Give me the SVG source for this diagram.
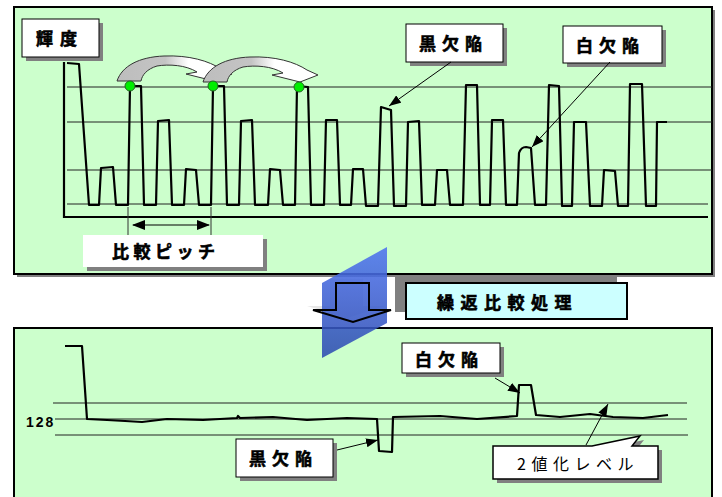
<svg xmlns="http://www.w3.org/2000/svg" width="722" height="497" viewBox="0 0 722 497">
<style>
.panel{fill:#CCFFCC;stroke:#000;stroke-width:2}
.shadow{fill:#808080}
.box{fill:#fff;stroke:#000;stroke-width:1}
.grid{stroke:#222;stroke-width:1;fill:none}
.wave{stroke:#000;stroke-width:2.2;fill:none;stroke-linejoin:round}
.lbl{font-family:"Noto Sans CJK JP","Liberation Sans",sans-serif;font-weight:700;font-size:17px;fill:#000;stroke:#000;stroke-width:0.6}
.lead{stroke:#000;stroke-width:1;fill:none;marker-end:url(#ah)}
.carrow{stroke:#333;stroke-width:1}
.dot{fill:#00EE00;stroke:#226622;stroke-width:1}
</style>
<defs>
<marker id="ah" markerUnits="userSpaceOnUse" markerWidth="13" markerHeight="9" refX="12" refY="4.5" orient="auto">
<path d="M0,0 L12,4.5 L0,9 Z" fill="#000"/>
</marker>
<linearGradient id="cg" x1="0" y1="0" x2="1" y2="0">
<stop offset="0" stop-color="#BDBDBD"/>
<stop offset="0.42" stop-color="#C4C4C4"/>
<stop offset="0.62" stop-color="#FFFFFF"/>
<stop offset="1" stop-color="#FFFFFF"/>
</linearGradient>
<linearGradient id="bg" x1="0" y1="0" x2="0" y2="1">
<stop offset="0" stop-color="#4F74F0"/>
<stop offset="1" stop-color="#2E4DB0"/>
</linearGradient>
</defs>

<!-- lower panel -->
<g id="panel-bottom">
<rect class="panel" x="14" y="328" width="698" height="180"/>
</g>

<!-- top panel -->
<g id="panel-top">
<rect class="shadow" x="17" y="10" width="698" height="267"/>
<rect class="panel" x="14" y="7" width="698" height="267"/>
</g>

<!-- top chart -->
<g id="chart-top">
<line class="grid" x1="67" y1="87" x2="712" y2="87"/>
<line class="grid" x1="67" y1="122" x2="712" y2="122"/>
<line class="grid" x1="67" y1="170" x2="712" y2="170"/>
<line class="grid" x1="67" y1="204" x2="708" y2="204"/>
<polyline points="64,62 64,217 708,217" fill="none" stroke="#000" stroke-width="2.2"/>
<path class="wave" d="M67,63 L79,64 L89,205 L99,205 L101,168 L113,167 L116,205 L128,205 L130,86 L141,86 L144,205 L156,205 L158,121 L169,120 L172,205 L184,205 L186,169 L196,170 L199,205 L211,205 L213,86 L224,86 L227,205 L239,205 L241,121 L252,120 L255,205 L268,205 L270,169 L280,170 L283,205 L295,205 L297,86 L308,87 L311,205 L324,205 L326,120 L337,120 L340,205 L351,205 L353,169 L363,169 L366,206 L378,206 L381,107 L391,110 L394,206 L406,206 L408,122 L419,121 L422,205 L435,205 L437,170 L447,170 L450,205 L463,205 L466,85 L477,85 L480,205 L490,205 L492,120 L503,120 L506,205 L517,205 L519,153 Q521,147 526,147 L531,148 L535,205 L546,205 L549,85 L559,86 L562,206 L572,206 L574,122 L586,122 L590,206 L602,206 L604,170 L615,171 L618,206 L628,206 L630,84 L642,84 L646,206 L656,206 L657,122 L667,122"/>
</g>

<!-- curved comparison arrows -->
<g id="compare-arrows">
<path class="carrow" fill="url(#cg)" d="M117,81 C122,66 139,57 164,56 C189,55 209,61 221,69 L232,74 L214,81 L186,74 L197,72 C186,65 169,64 157,66 C147,69 142,75 141,81 Z"/>
<path class="carrow" fill="url(#cg)" d="M203,82 C208,67 225,58 250,57 C275,56 295,62 307,70 L318,75 L300,82 L272,75 L283,73 C272,66 255,65 243,67 C233,70 228,76 227,82 Z"/>
<circle class="dot" cx="130" cy="86" r="5"/>
<circle class="dot" cx="213" cy="86" r="5"/>
<circle class="dot" cx="299" cy="87" r="5"/>
</g>

<!-- pitch marker -->
<g id="pitch">
<line x1="128" y1="207" x2="128" y2="236" stroke="#333" stroke-width="1"/>
<line x1="211" y1="207" x2="211" y2="236" stroke="#333" stroke-width="1"/>
<path d="M133,225 L209,225" stroke="#000" stroke-width="1.2"/>
<path d="M132,225 L145,220 L145,230 Z" fill="#000"/>
<path d="M210,225 L197,220 L197,230 Z" fill="#000"/>
</g>

<g id="label-kido">
<rect class="shadow" x="26" y="23" width="77" height="38"/>
<rect class="box" x="22" y="19" width="77" height="38"/>
<text class="lbl" x="36" y="45" letter-spacing="7">輝度</text>
</g>

<g id="label-pitch">
<rect class="shadow" x="87" y="239" width="180" height="32"/>
<rect x="83" y="235" width="180" height="32" fill="#fff"/>
<text class="lbl" x="112" y="258" font-size="16" letter-spacing="4.5">比較ピッチ</text>
</g>

<g id="label-black-top">
<rect class="shadow" x="410" y="28" width="97" height="38"/>
<rect class="box" x="406" y="24" width="97" height="38"/>
<text class="lbl" x="419" y="50" letter-spacing="6">黒欠陥</text>
</g>

<g id="label-white-top">
<rect class="shadow" x="567" y="30" width="99" height="37"/>
<rect class="box" x="563" y="26" width="99" height="37"/>
<text class="lbl" x="576" y="52" letter-spacing="6">白欠陥</text>
</g>

<!-- lower chart -->
<g id="chart-bottom">
<line class="grid" x1="53" y1="403" x2="687" y2="403"/>
<line class="grid" x1="55" y1="419" x2="687" y2="419"/>
<line class="grid" x1="55" y1="435" x2="688" y2="435"/>
<text x="26" y="427" font-family="Liberation Sans, Arial, sans-serif" font-weight="700" font-size="14" letter-spacing="2">128</text>
<path class="wave" d="M65,346 L82,346 L87,419 L107,420 L125,421 L142,422 L167,419 L203,420 L237,418 L238,416 L240,418 L273,417 L307,420 L347,418 L377,419 L379,451 L392,452 L393,417 L440,416 L477,419 L517,416 L519,385 L531,385 L536,415 L560,417 L590,414 L613,417 L643,418 L668,415"/>
</g>

<g id="label-black-bottom">
<rect class="shadow" x="240" y="443" width="97" height="38"/>
<rect class="box" x="236" y="439" width="97" height="38"/>
<text class="lbl" x="249" y="465" letter-spacing="6">黒欠陥</text>
</g>

<g id="label-white-bottom">
<rect class="shadow" x="406" y="347" width="98" height="30"/>
<rect class="box" x="402" y="343" width="98" height="30"/>
<text class="lbl" x="415" y="366" letter-spacing="6">白欠陥</text>
</g>

<g id="label-level">
<path class="shadow" d="M497,450 L596,450 L644,440 L636,450 L662,450 L662,483 L497,483 Z"/>
<path d="M493,446 L592,446 L640,436 L632,446 L658,446 L658,479 L493,479 Z" fill="#fff" stroke="#000" stroke-width="1.5"/>
<text x="517" y="470" font-family="Noto Sans CJK JP, Liberation Sans, sans-serif" font-size="16" letter-spacing="5.5" fill="#000">2値化レベル</text>
</g>

<!-- connectors -->
<g id="connectors">
<line class="lead" x1="451" y1="62" x2="389" y2="106"/>
<line class="lead" x1="610" y1="62" x2="532" y2="147"/>
<line class="lead" x1="337" y1="450" x2="378" y2="440"/>
<line class="lead" x1="495" y1="378" x2="520" y2="393"/>
<line class="lead" x1="586" y1="445" x2="608" y2="404"/>
</g>

<g id="label-process">
<rect class="shadow" x="395" y="275" width="222" height="37"/>
<rect x="406" y="283" width="221" height="36" fill="#CCFFFF" stroke="#000" stroke-width="2"/>
<text class="lbl" x="437" y="309" font-size="19" letter-spacing="6.5">繰返比較処理</text>
</g>

<g id="process-arrow">
<path d="M330,279 L363,279 L363,306 L385,306 L347,318 L307,306 L330,306 Z" fill="#bbb" opacity="0.35"/>
<polygon points="322,283 387,247 387,323 322,358" fill="url(#bg)" opacity="0.88"/>
<path d="M336,283 L369,283 L369,310 L391,310 L353,322 L313,310 L336,310 Z" fill="none" stroke="#000" stroke-width="2" stroke-linejoin="miter"/>
</g>
</svg>
